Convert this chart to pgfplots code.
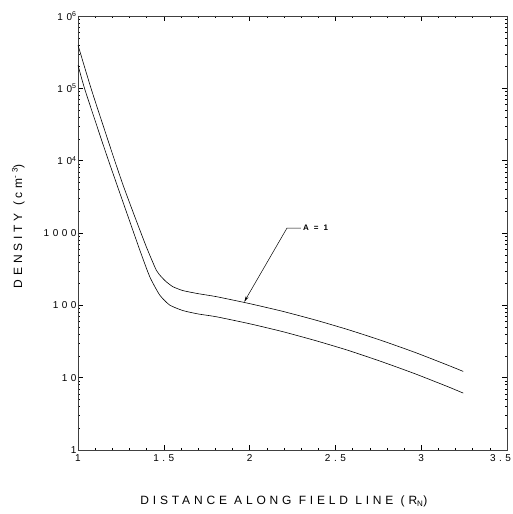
\documentclass[border=0pt]{standalone}
\usepackage{fontspec}
\setmainfont{Liberation Sans}
\newfontfamily\tickfont{Liberation Sans}[LetterSpace=35]
\newfontfamily\labfont{Liberation Sans}[LetterSpace=32]
\usepackage{pgfplots}
\usepackage{pgfplotstable}
\pgfplotsset{compat=1.18}
\usetikzlibrary{arrows.meta}
\pgfplotstableread{
x y
1.000 397000
1.079 94800
1.203 11970
1.263 4570
1.331 1680
1.398 646
1.456 307
1.485 249
1.514 212
1.553 181
1.611 160
1.700 145
1.805 132
1.998 105.9
2.191 82.8
2.385 62.5
2.578 45.8
2.771 32.5
2.965 22.3
3.158 14.8
3.245 12.2
}\uppertab
\pgfplotstableread{
x y
1.000 210000
1.041 94800
1.157 14000
1.224 4860
1.292 1680
1.360 582
1.418 249
1.476 139
1.534 101
1.611 84.7
1.700 76
1.805 69.6
1.998 55.8
2.191 43.4
2.385 32.5
2.578 23.7
2.771 16.6
2.965 11.3
3.158 7.46
3.245 6.12
}\lowertab
\begin{document}
\begin{tikzpicture}
\begin{axis}[
  at={(0,0)}, anchor=south west,
  scale only axis, width=429pt, height=434pt,
  xmin=1, xmax=3.5, ymode=log, ymin=1, ymax=1e6,
  xtick={1,1.5,2,2.5,3,3.5},
  xticklabels={1,1.5,2,2.5,3,\makebox[8pt][r]{3.5}},
  ytick={1,10,100,1000,1e4,1e5,1e6},
  yticklabels={1,10,100,1000,10\textsuperscript{4},10\textsuperscript{5},10\textsuperscript{6}},
  minor x tick num=4,
  tick align=inside, tick pos=both,
  major tick length=5pt, minor tick length=2.5pt,
  every tick/.style={black, line width=0.4pt},
  axis line style={black!75, line width=0.5pt},
  ticklabel style={font=\tickfont\fontsize{10}{11}\selectfont},
  xticklabel style={yshift=-1pt},
  yticklabel style={xshift=2pt},
  xlabel={DISTANCE ALONG FIELD LINE (R\textsubscript{N})},
  ylabel={DENSITY (cm\textsuperscript{-3})},
  label style={font=\labfont\fontsize{12}{13}\selectfont},
  xlabel style={at={(axis description cs:0.48,-0.118)}, anchor=center},
  ylabel style={at={(axis description cs:-0.1392,0.516)}, anchor=center},
]
\addplot[black, line width=0.6pt, smooth, tension=0.35] table[x=x,y=y] {\uppertab};
\addplot[black, line width=0.6pt, smooth, tension=0.35] table[x=x,y=y] {\lowertab};
\draw[black, line width=0.5pt, -{Stealth[length=6pt,width=3pt]}]
  (axis cs:2.299,1172) -- (axis cs:2.218,1172) -- (axis cs:1.969,112);
\node[anchor=west, inner sep=1pt, font=\tickfont\bfseries\fontsize{8}{9}\selectfont]
  at (axis cs:2.305,1172) {A = 1};
\end{axis}
\pgfresetboundingbox
\path (-78pt,-64pt) rectangle (435pt,450pt);
\end{tikzpicture}
\end{document}
